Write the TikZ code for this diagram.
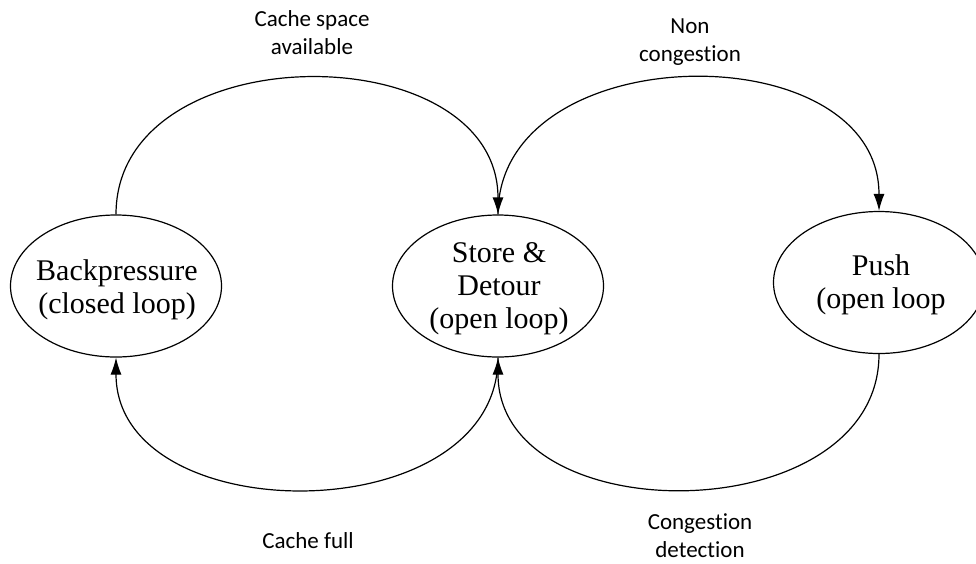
\documentclass[tikz,border=0pt]{standalone}
\usepackage{fontspec}
\setmainfont{Liberation Serif}
\newfontfamily\labelfont[Ligatures=NoCommon]{Carlito}
\usetikzlibrary{shapes.geometric,arrows.meta}

\tikzset{
  state/.style={ellipse, draw, line width=1.2pt, inner sep=0pt,
                minimum width=211pt, minimum height=142pt},
  statetext/.style={align=center, inner sep=0pt,
                font=\fontsize{30}{33}\selectfont},
  edgelabel/.style={align=center, inner sep=0pt,
                font=\labelfont\fontsize{23}{28}\selectfont},
  flow/.style={line width=1.2pt, -{Latex[length=17pt,width=11pt]}},
  plain/.style={line width=1.2pt}
}

\begin{document}
\begin{tikzpicture}[x=1pt, y=-1pt]
  \useasboundingbox (0,0) rectangle (976,563);
  \clip (0,0) rectangle (976,563);

  % the three operating modes
  \node[state] (bp) at (116,286) {};
  \node[state] (sd) at (498,286) {};
  \node[state] (push) at (879,282.5) {};

  \node[statetext] (bptext) at (117,289.5) {Backpressure\\(closed loop)};
  \node[statetext] (sdtext) at (499,289) {Store \&\\Detour\\(open loop)};
  \node[statetext] (pushtext) at (881,284.5) {Push\\(open loop};

  % transitions
  \draw[flow] (bp.north) .. controls +(0,-181) and +(0,-181) .. (sd.north);
  \draw[flow] (sd.north) .. controls +(0,-179) and +(0,-179) .. (push.north);
  \draw[flow] (sd.south) .. controls +(0,175) and +(0,175) .. (bp.south);
  \draw[flow] (push.south) .. controls +(0,177) and +(0,177) .. (sd.south);

  % transition conditions
  \node[edgelabel] (lspace) at (312,33) {Cache space\\available};
  \node[edgelabel] (lnoncong) at (690,42) {Non\\congestion};
  \node[edgelabel, anchor=base] (lfull) at (308,548) {Cache full};
  \node[edgelabel] (lcong) at (700,536) {Congestion\\detection};
\end{tikzpicture}
\end{document}
